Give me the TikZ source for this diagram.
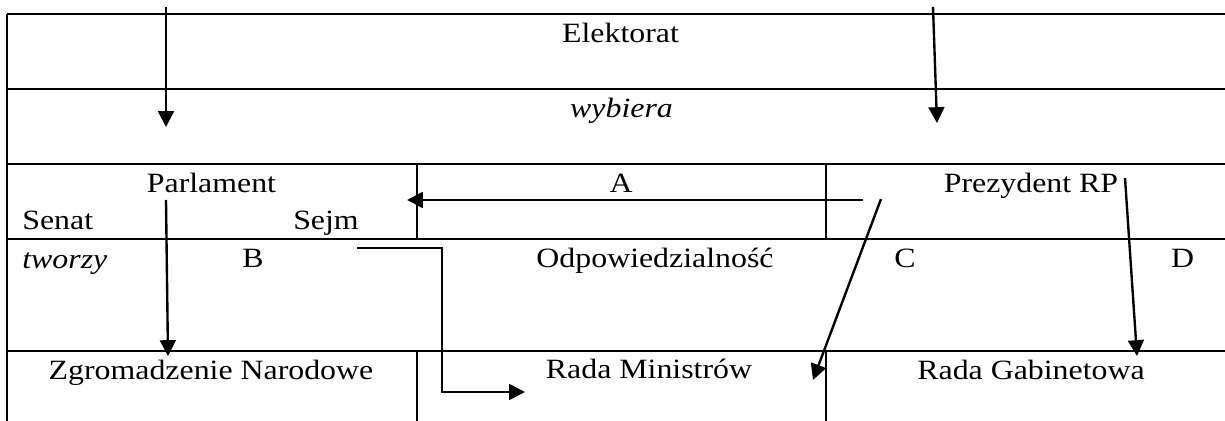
\documentclass[tikz,border=0pt]{standalone}
\usepackage{fontspec}
\setmainfont{Liberation Serif}[FakeStretch=1.14]
\usetikzlibrary{arrows.meta}

\tikzstyle{cell}=[fill=none,text=black,draw=none,inner sep=0pt,anchor=base,
                  font=\fontsize{15.9}{18}\selectfont]
\tikzstyle{cellit}=[cell,font=\fontsize{15.9}{18}\selectfont\itshape]
\tikzstyle{rule}=[line width=1.15pt]
\tikzstyle{link}=[line width=1.35pt,-{Triangle[length=9pt,width=9pt]}]

\begin{document}
\begin{tikzpicture}[x=0.02cm,y=-0.02cm]
\useasboundingbox (0,0) rectangle (1225,421);

% table
\foreach \row in {14,89,164,239,351}
  \draw [rule] (7,\row) -- (1225,\row);
\draw [rule] (7,14) -- (7,421);
\foreach \col in {417,826} {
  \draw [rule] (\col,164) -- (\col,239);
  \draw [rule] (\col,351) -- (\col,421);
}

% texts
\node [cell] (elektorat) at (620.5,43) {Elektorat};
\node [cellit] (wybiera) at (621.5,118) {wybiera};
\node [cell] (parlament) at (211.5,193) {Parlament};
\node [cell] (a) at (621,193) {A};
\node [cell] (prezydent) at (1031,193) {Prezydent RP};
\node [cell, anchor=base west] (senat) at (22,230) {Senat};
\node [cell] (sejm) at (326,230) {Sejm};
\node [cellit, anchor=base west] (tworzy) at (22,269) {tworzy};
\node [cell] (b) at (253,268) {B};
\node [cell] (odp) at (655,268) {Odpowiedzialność};
\node [cell] (c) at (905,268) {C};
\node [cell] (d) at (1182.5,268) {D};
\node [cell] (zn) at (211,380) {Zgromadzenie Narodowe};
\node [cell] (rm) at (649,379) {Rada Ministrów};
\node [cell] (rg) at (1031,380) {Rada Gabinetowa};

% arrow ends
\coordinate (e1) at (166,7);   \coordinate (e1t) at (166,127);
\coordinate (e2) at (933,7);   \coordinate (e2t) at (937,123);
\coordinate (p1) at (166,200); \coordinate (p1t) at (168,356);
\coordinate (aa) at (863,200); \coordinate (aat) at (407,200);
\coordinate (s1) at (357,248); \coordinate (s1k) at (442,248);
\coordinate (s1t) at (525,392);
\coordinate (c1) at (881,199); \coordinate (c1t) at (813,380);
\coordinate (d1) at (1125,178); \coordinate (d1t) at (1137,356);

\draw [link] (e1) -- (e1t);
\draw [link] (e2) -- (e2t);
\draw [link] (p1) -- (p1t);
\draw [link] (aa) -- (aat);
\draw [link] (s1) -- (s1k) |- (s1t);
\draw [link] (c1) -- (c1t);
\draw [link] (d1) -- (d1t);
\end{tikzpicture}
\end{document}
